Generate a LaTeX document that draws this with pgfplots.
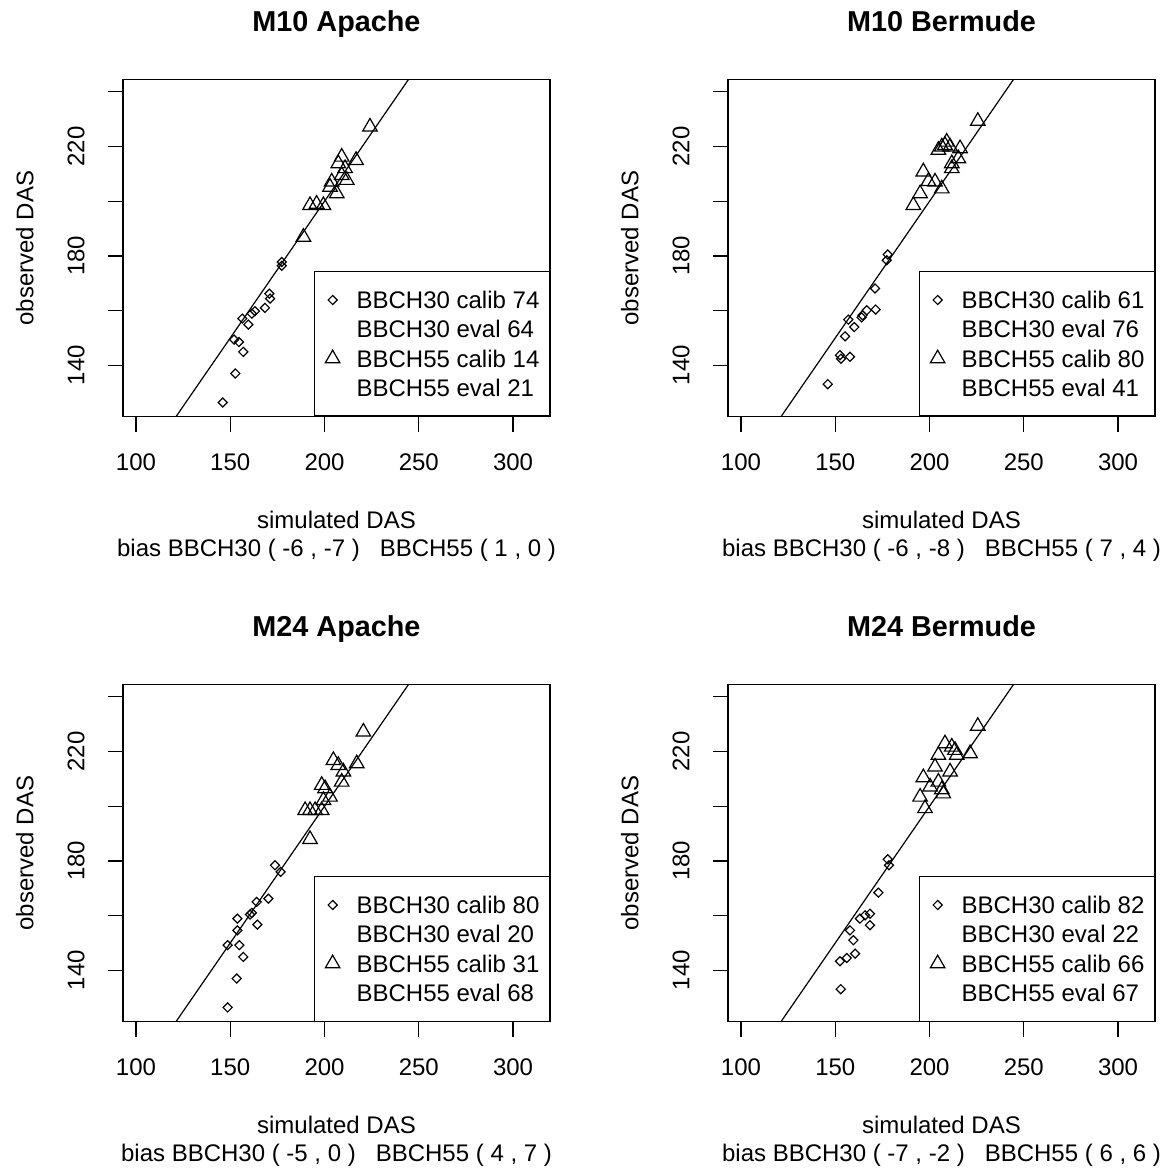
\documentclass[12pt,border=0pt]{standalone}
\usepackage{fontspec}
\setmainfont{Liberation Sans}
\usepackage{pgfplots}
\usepackage{pgfplotstable}
\pgfplotsset{compat=1.18}

% BBCH30 points (diamonds) and BBCH55 points (triangles), one pair per panel
\pgfplotstableread{
x y
146.0 126.4
152.7 137.0
156.9 144.9
152.0 149.4
154.6 148.5
159.6 154.9
156.4 157.1
161.4 158.9
163.1 159.8
168.4 161.0
170.7 166.2
171.1 164.4
177.3 177.8
177.3 176.4
}\pAd
\pgfplotstableread{
x y
224.1 227.2
188.8 186.9
192.3 198.5
195.8 199.0
199.4 198.5
202.9 205.2
203.8 207.1
206.5 202.8
209.1 209.5
211.8 207.7
207.3 213.8
209.1 216.2
210.9 212.0
216.7 215.0
}\pAt
\pgfplotstableread{
x y
146.0 133.1
153.0 142.4
152.5 143.7
157.8 143.1
155.2 150.6
156.9 156.7
160.1 154.0
164.0 157.5
164.5 158.3
166.7 160.1
171.4 160.4
171.1 168.1
177.3 178.4
177.8 180.5
}\pBd
\pgfplotstableread{
x y
225.6 229.3
209.1 221.7
206.5 219.9
208.2 220.5
210.9 219.9
204.7 218.7
216.2 219.3
211.8 213.8
211.8 212.0
215.3 215.6
196.7 210.8
202.9 207.1
199.4 207.3
206.5 204.6
195.0 202.8
191.4 198.5
}\pBt
\pgfplotstableread{
x y
148.6 126.4
153.4 137.0
156.9 144.9
148.6 149.2
154.8 149.2
153.8 154.6
153.8 158.9
160.5 160.4
161.4 161.0
164.4 156.7
164.0 165.0
170.2 166.2
173.7 178.4
176.7 176.0
}\pCd
\pgfplotstableread{
x y
220.6 227.2
192.3 187.9
189.7 198.5
192.3 198.5
195.0 198.5
198.5 198.5
198.5 207.7
200.3 206.5
202.9 203.4
199.4 202.2
204.7 216.8
207.3 215.0
210.0 212.6
209.1 208.9
217.1 215.6
}\pCt
\pgfplotstableread{
x y
152.9 133.1
152.5 143.3
156.1 144.5
160.5 146.1
159.6 151.0
157.8 154.6
163.1 158.9
165.8 160.1
168.4 160.7
168.4 156.5
172.9 168.4
177.8 180.6
178.5 178.4
}\pDd
\pgfplotstableread{
x y
225.6 229.3
208.2 222.9
211.8 221.7
213.5 220.5
204.7 218.7
214.4 218.7
221.5 219.3
202.9 214.4
210.9 212.6
196.7 210.5
200.3 207.1
206.5 206.1
207.3 204.6
195.0 203.4
197.6 199.2
204.7 208.9
}\pDt

\pgfplotsset{
  panel/.style={
    scale only axis, width=213.5pt, height=168.7pt,
    anchor=south west, clip=false,
    xmin=93.1, xmax=319.6, ymin=121.2, ymax=244.6,
    xtick={100,150,200,250,300}, xticklabels={100,150,200,250,300},
    ytick={140,160,180,200,220,240}, yticklabels={140,,180,,220,},
    xtick pos=left, ytick pos=left, tick align=outside,
    major tick length=7.5pt,
    axis line style={line width=0.6pt},
    every tick/.style={black, line width=0.6pt},
    xticklabel style={anchor=north, inner sep=0pt},
    yticklabel style={rotate=90, anchor=south, inner sep=0pt},
    xticklabel shift=10.8pt, yticklabel shift=11.5pt,
    title style={at={(0.5,1)}, anchor=base, yshift=18pt,
      font=\fontsize{14.4}{17}\selectfont\bfseries},
    xlabel={simulated DAS}, ylabel={observed DAS},
    xlabel style={at={(axis description cs:0.5,0)}, anchor=base, yshift=-55.7pt},
    ylabel style={at={(axis description cs:-0.2098,0.5)}, anchor=base},
    legend style={at={(1,0)}, anchor=south east, draw=black, line width=0.6pt,
      inner xsep=5pt, inner ysep=9.8pt, row sep=6.05pt,
      nodes={inner sep=0pt, text height=8.6pt, text depth=0pt},
      /tikz/every odd column/.append style={column sep=8pt}},
    legend cell align=left,
    legend image code/.code={\draw[##1] plot coordinates {(0pt,0pt)};
      \path[draw=none, fill=none] (-4pt,0pt) -- (4pt,0pt);},
  },
  dia/.style={only marks, mark=square, mark size=1.6pt,
    mark options={rotate=45, line width=0.6pt, draw=black, fill=none}},
  tri/.style={only marks, mark=triangle, mark size=4.2pt,
    mark options={line width=0.6pt, draw=black, fill=none}},
  oneone/.style={black, line width=0.6pt, forget plot},
}

\begin{document}
\begin{tikzpicture}
\path[use as bounding box] (0,0) rectangle (586.5pt,584.5pt);

\begin{axis}[panel, at={(61.5pt,376.15pt)}, title={M10 Apache}]
\addplot[oneone] coordinates {(121.2,121.2) (244.6,244.6)};
\addplot[dia, forget plot] table {\pAd};
\addplot[tri, forget plot] table {\pAt};
\addlegendimage{dia}\addlegendentry{BBCH30 calib 74}
\addlegendimage{empty legend}\addlegendentry{BBCH30 eval 64}
\addlegendimage{tri}\addlegendentry{BBCH55 calib 14}
\addlegendimage{empty legend}\addlegendentry{BBCH55 eval 21}
\node[anchor=base, yshift=-70pt] at (rel axis cs:0.5,0) {bias BBCH30 ( -6 , -7 )\ \ \ BBCH55 ( 1 , 0 )};
\end{axis}

\begin{axis}[panel, at={(364pt,376.15pt)}, title={M10 Bermude}]
\addplot[oneone] coordinates {(121.2,121.2) (244.6,244.6)};
\addplot[dia, forget plot] table {\pBd};
\addplot[tri, forget plot] table {\pBt};
\addlegendimage{dia}\addlegendentry{BBCH30 calib 61}
\addlegendimage{empty legend}\addlegendentry{BBCH30 eval 76}
\addlegendimage{tri}\addlegendentry{BBCH55 calib 80}
\addlegendimage{empty legend}\addlegendentry{BBCH55 eval 41}
\node[anchor=base, yshift=-70pt] at (rel axis cs:0.5,0) {bias BBCH30 ( -6 , -8 )\ \ \ BBCH55 ( 7 , 4 )};
\end{axis}

\begin{axis}[panel, at={(61.5pt,73.65pt)}, title={M24 Apache}]
\addplot[oneone] coordinates {(121.2,121.2) (244.6,244.6)};
\addplot[dia, forget plot] table {\pCd};
\addplot[tri, forget plot] table {\pCt};
\addlegendimage{dia}\addlegendentry{BBCH30 calib 80}
\addlegendimage{empty legend}\addlegendentry{BBCH30 eval 20}
\addlegendimage{tri}\addlegendentry{BBCH55 calib 31}
\addlegendimage{empty legend}\addlegendentry{BBCH55 eval 68}
\node[anchor=base, yshift=-70pt] at (rel axis cs:0.5,0) {bias BBCH30 ( -5 , 0 )\ \ \ BBCH55 ( 4 , 7 )};
\end{axis}

\begin{axis}[panel, at={(364pt,73.65pt)}, title={M24 Bermude}]
\addplot[oneone] coordinates {(121.2,121.2) (244.6,244.6)};
\addplot[dia, forget plot] table {\pDd};
\addplot[tri, forget plot] table {\pDt};
\addlegendimage{dia}\addlegendentry{BBCH30 calib 82}
\addlegendimage{empty legend}\addlegendentry{BBCH30 eval 22}
\addlegendimage{tri}\addlegendentry{BBCH55 calib 66}
\addlegendimage{empty legend}\addlegendentry{BBCH55 eval 67}
\node[anchor=base, yshift=-70pt] at (rel axis cs:0.5,0) {bias BBCH30 ( -7 , -2 )\ \ \ BBCH55 ( 6 , 6 )};
\end{axis}
\end{tikzpicture}
\end{document}
